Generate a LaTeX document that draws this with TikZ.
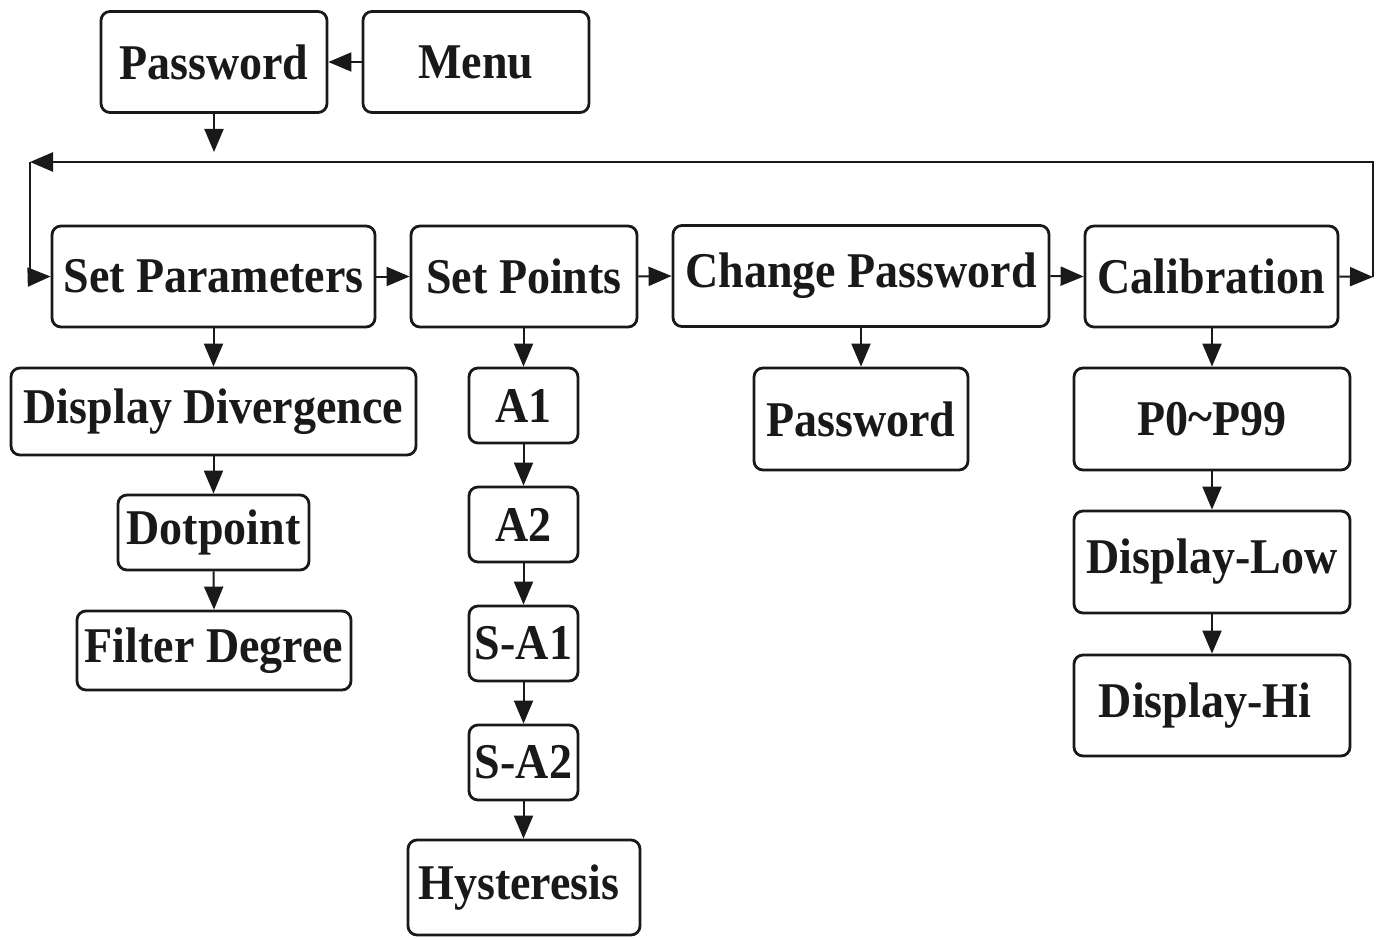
\documentclass[tikz,border=0pt]{standalone}
\usepackage{fontspec}
\setmainfont{Liberation Serif}[FakeStretch=0.92]
\usetikzlibrary{arrows.meta}
\begin{document}
\begin{tikzpicture}[x=1pt,y=-1pt,
  box/.style={draw=black!90, line width=2.8pt, rounded corners=9pt, inner sep=0pt,
    font=\bfseries\fontsize{50}{55}\selectfont, text=black!90},
  tip/.tip={Triangle[length=23pt,width=19pt]},
  arr/.style={line width=2pt, draw=black!90, -tip},
  ln/.style={line width=2.6pt, draw=black!90}]
\useasboundingbox (0,0) rectangle (1383,939);
\fill[white] (0,0) rectangle (1383,939);
% top
\node[box, minimum width=226pt, minimum height=101pt] (pw) at (214,62) {Password};
\node[box, minimum width=226pt, minimum height=101pt] (menu) at (476,62) {Menu};
% main row
\node[box, minimum width=323pt, minimum height=101pt] (sp) at (213.5,276.5) {Set Parameters};
\node[box, minimum width=226pt, minimum height=101pt] (spt) at (524,276.5) {Set Points};
\node[box, minimum width=376pt, minimum height=101pt] (cp) at (861,276) {Change Password};
\node[box, minimum width=253pt, minimum height=101pt] (cal) at (1211.5,276.5) {Calibration};
% column 1
\node[box, minimum width=405pt, minimum height=87pt] (dd) at (213.5,411.5) {Display Divergence};
\node[box, minimum width=191pt, minimum height=75pt] (dp) at (213.5,532.5) {Dotpoint};
\node[box, minimum width=274pt, minimum height=79pt] (fd) at (214,650.5) {Filter Degree};
% column 2
\node[box, minimum width=109pt, minimum height=75pt] (a1) at (523.5,405.5) {A1};
\node[box, minimum width=109pt, minimum height=75pt] (a2) at (523.5,524.5) {A2};
\node[box, minimum width=109pt, minimum height=75pt] (sa1) at (523.5,643.5) {S-A1};
\node[box, minimum width=109pt, minimum height=75pt] (sa2) at (523.5,762.5) {S-A2};
\node[box, minimum width=232pt, minimum height=95pt] (hy) at (524,887.5) {\hspace*{-10pt}Hysteresis};
% column 3
\node[box, minimum width=214pt, minimum height=102pt] (pw2) at (861,419) {Password};
% column 4
\node[box, minimum width=276pt, minimum height=102pt] (p0) at (1212,419) {P0\raisebox{2pt}{\char"007E}P99};
\node[box, minimum width=276pt, minimum height=102pt] (dl) at (1212,562) {Display-Low};
\node[box, minimum width=276pt, minimum height=101pt] (dh) at (1212,705.5) {\hspace*{-14pt}Display-Hi};
% coordinates for loop
\coordinate (pwend) at (214,152);
\coordinate (rr) at (1373,277);
\coordinate (tr) at (1373,162);
\coordinate (tl) at (30,162);
\coordinate (bl) at (30,277);
% arrows
\draw[arr] (menu.west) -- (pw.east);
\draw[arr] (pw.south) -- (pwend);
\draw[arr] (sp.east) -- (spt.west);
\draw[arr] (spt.east) -- (cp.west);
\draw[arr] (cp.east) -- (cal.west);
\draw[arr] (cal.east) -- (rr);
\draw[ln, -tip] (rr) -- (tr) -- (tl);
\draw[ln] (tl) -- (bl);
\draw[arr] (bl) -- (sp.west);
\draw[arr] (sp.south -| dd.north) -- (dd.north);
\draw[arr] (dd.south) -- (dp.north);
\draw[arr] (dp.south) -- (fd.south |- fd.north);
\draw[arr] (spt.south -| a1.north) -- (a1.north);
\draw[arr] (a1.south) -- (a2.north);
\draw[arr] (a2.south) -- (sa1.north);
\draw[arr] (sa1.south) -- (sa2.north);
\draw[arr] (sa2.south) -- (sa2.south |- hy.north);
\draw[arr] (cp.south) -- (pw2.north);
\draw[arr] (cal.south -| p0.north) -- (p0.north);
\draw[arr] (p0.south) -- (dl.north);
\draw[arr] (dl.south) -- (dh.north);
\end{tikzpicture}
\end{document}
